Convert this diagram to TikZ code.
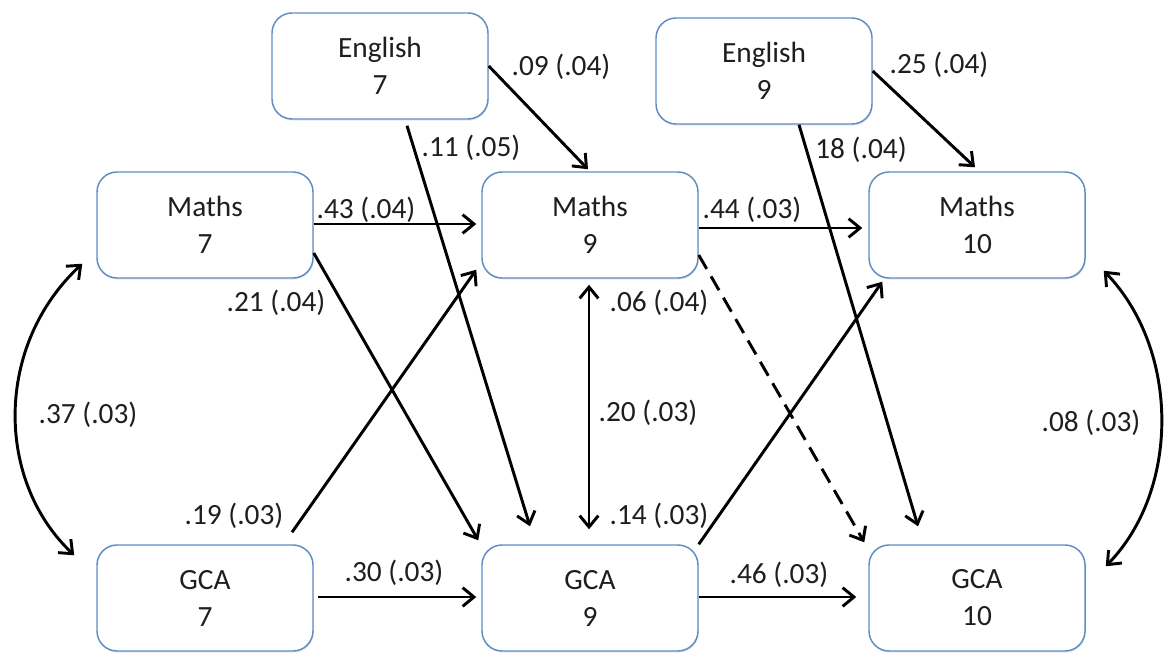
\documentclass[tikz,border=0pt]{standalone}
\usepackage{fontspec}
\setmainfont{Carlito}
\usetikzlibrary{arrows.meta,calc,shadows}
\definecolor{boxblue}{RGB}{95,140,196}
\definecolor{txt}{RGB}{30,30,30}
\tikzset{
  var/.style={draw=boxblue, line width=1.1pt, rounded corners=15pt, fill=white,
    minimum width=162pt, minimum height=79.5pt, align=center, text=txt,
    font=\fontsize{22}{27.75}\selectfont,
    drop shadow={shadow xshift=0.6pt, shadow yshift=-1.2pt, opacity=0.18, fill=gray}},
  lbl/.style={font=\fontsize{22}{26}\selectfont, inner sep=0pt, text=txt},
  path/.style={line width=2.2pt, -{Straight Barb[length=8.5pt,width=14pt,line width=2.2pt]}},
  cov/.style={line width=2.2pt, {Straight Barb[length=8.5pt,width=14pt,line width=2.2pt]}-{Straight Barb[length=8.5pt,width=14pt,line width=2.2pt]}},
  dpath/.style={path, dash pattern=on 12pt off 6.5pt}
}
\begin{document}
\begin{tikzpicture}[x=0.75pt,y=-0.75pt]
\useasboundingbox (0,0) rectangle (1166,653);
% nodes
\node[var] (e7) at (380,66) {English\\7};
\node[var] (e9) at (764,71) {English\\9};
\node[var] (m7) at (205,225) {Maths\\7};
\node[var] (m9) at (590,225) {Maths\\9};
\node[var] (m10) at (977,225) {Maths\\10};
\node[var] (g7) at (205,598) {GCA\\7};
\node[var] (g9) at (590,598) {GCA\\9};
\node[var] (g10) at (977,598) {GCA\\10};
% paths
\draw[path] (e7.east) -- ($(m9.north)+(-2,-2)$);
\draw[path] ($(e7.south)+(27,6)$) -- ($(g9.north)+(-60,-18)$);
\draw[path] (e9.east) -- ($(m10.north)+(-2,-4)$);
\draw[path] ($(e9.south)+(35,0)$) -- ($(g10.north)+(-59,-18)$);
\draw[path] ($(m7.east)+(0,-1)$) -- ($(m9.west)+(-5,-1)$);
\draw[path] ($(m7.east)+(0,28)$) -- ($(g9.north west)+(-3,-4)$);
\draw[path] ($(g7.north)+(87,-12)$) -- ($(m9.south west)+(-5,-9)$);
\draw[path] ($(g7.east)+(4,-1)$) -- ($(g9.west)+(-5,-1)$);
\draw[path] ($(m9.east)+(0,3)$) -- ($(m10.west)+(-6,3)$);
\draw[dpath] ($(m9.east)+(0,30)$) -- ($(g10.north west)+(-4,-2)$);
\draw[cov] ($(m9.south)+(-1,6)$) -- ($(g9.north)+(-1,-15)$);
\draw[path] (g9.north east) -- ($(m10.south west)+(14,3)$);
\draw[path] ($(g9.east)+(0,-1)$) -- ($(g10.west)+(-12,-1)$);
\draw[cov] ($(m7.south west)+(-14,-15)$) .. controls (-5,345) and (-5,480) .. ($(g7.north west)+(-22,11)$);
\draw[cov] ($(m10.south east)+(18,-8)$) .. controls (1180,350) and (1180,490) .. ($(g10.north east)+(20,22)$);
% labels
\node[lbl] (l1) at (561,67) {.09 (.04)};
\node[lbl] (l2) at (471,148) {.11 (.05)};
\node[lbl] (l3) at (939,65) {.25 (.04)};
\node[lbl] (l4) at (861,150) {18 (.04)};
\node[lbl] (l5) at (366,210) {.43 (.04)};
\node[lbl] (l6) at (752,210) {.44 (.03)};
\node[lbl] (l7) at (276,303) {.21 (.04)};
\node[lbl] (l8) at (659,303) {.06 (.04)};
\node[lbl] (l9) at (88,415) {.37 (.03)};
\node[lbl] (l10) at (648,413) {.20 (.03)};
\node[lbl] (l11) at (1091,423) {.08 (.03)};
\node[lbl] (l12) at (234,516) {.19 (.03)};
\node[lbl] (l13) at (659,516) {.14 (.03)};
\node[lbl] (l14) at (394,573) {.30 (.03)};
\node[lbl] (l15) at (779,575) {.46 (.03)};
\end{tikzpicture}
\end{document}
